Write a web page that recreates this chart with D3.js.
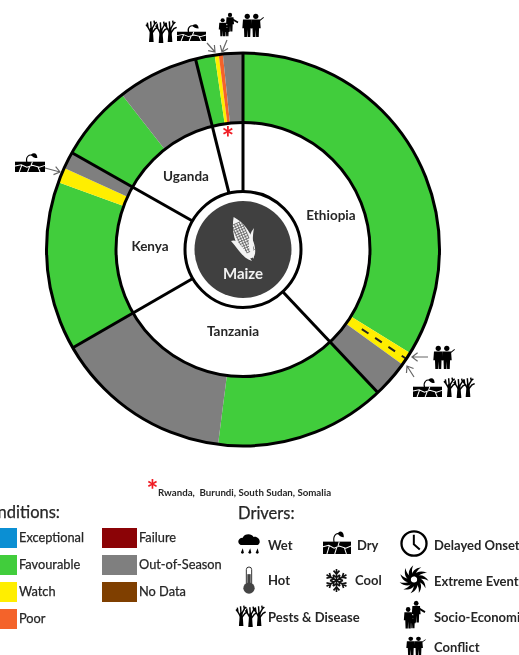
<!DOCTYPE html>
<html>
<head>
<meta charset="utf-8">
<script src="https://cdn.jsdelivr.net/npm/d3@7"></script>
<style>
  html, body { margin: 0; background: #fff; overflow: hidden; }
  svg { display: block; filter: blur(0.35px); }
  text { font-family: Lato, "Open Sans", sans-serif; fill: #262626; }
  .semi { stroke: #262626; stroke-width: 0.25px; }
</style>
</head>
<body>
<div id="chart"></div>
<script>
const width = 519, height = 655;

// countries of the inner ring, share in degrees of the circle
const countries = ["Ethiopia", "Tanzania", "Kenya", "Uganda", ""];
const countryShares = [136.7, 103.3, 59.5, 46.5, 14];

// outer ring, running clockwise from the top
const segmentConditions = ["Favourable", "Watch", "Out-of-Season", "Favourable", "Out-of-Season",
  "Favourable", "Watch", "Out-of-Season", "Favourable", "Out-of-Season",
  "Favourable", "Watch", "Poor", "Out-of-Season"];
const segmentShares = [121.8, 4, 10.9, 50.6, 52.7, 50, 4.5, 5, 22.5, 24, 5.7, 1.2, 1.2, 5.9];

const conditionNames = ["Exceptional", "Favourable", "Watch", "Poor", "Failure", "Out-of-Season", "No Data"];
const conditionColors = ["#0b8fd3", "#41cd3c", "#ffee00", "#f4632a", "#8b0306", "#7f7f7f", "#7f3f00"];
const footnote = "Rwanda,  Burundi, South Sudan, Somalia";

const driverNames = ["Wet", "Dry", "Delayed Onset", "Hot", "Cool", "Extreme Event", "Pests & Disease", "Socio-Economic", "Conflict"];
const driverIcons = ["wet", "dry", "clock", "thermo", "snow", "swirl", "trees", "family", "conflict"];

const cx = 243, cy = 249.5;
const rOuter = 196.5, rMiddle = 127, rHub = 58, rDisc = 48.5;

const color = d3.scaleOrdinal().domain(conditionNames).range(conditionColors);

const svg = d3.select("#chart").append("svg")
  .attr("width", width)
  .attr("height", height)
  .attr("viewBox", [0, 0, width, height]);

const defs = svg.append("defs");

// ---- icons, each one a symbol drawn in its own little box ----
function symbol(id, w, h) {
  return defs.append("symbol").attr("id", id)
    .attr("viewBox", [0, 0, w, h])
    .attr("preserveAspectRatio", "none")
    .attr("overflow", "visible");
}

let trees = symbol("trees", 84, 66);
[13, 42, 69].forEach((tx, i) => {
  let t = trees.append("g").attr("transform", `translate(${tx},${i == 1 ? 3 : 0})`);
  t.append("path").attr("d", "M-7 66 L-4 24 L4 24 L7 66 Z").attr("fill", "#000");
  t.append("path").attr("fill", "none").attr("stroke", "#000").attr("stroke-width", 4.5)
    .attr("d", "M0 40 L-10 22 L-12 8 M-10 22 L-16 14 M0 36 L-2 4 M0 30 L10 12 L8 2 M10 12 L16 6 M0 42 L12 26 L20 22");
});

let dry = symbol("dry", 86, 66);
dry.append("rect").attr("y", 32).attr("width", 86).attr("height", 34).attr("fill", "#000");
dry.append("path").attr("fill", "none").attr("stroke", "#fff").attr("stroke-width", 3)
  .attr("d", "M0 46 L18 42 L34 50 L50 44 L70 50 L86 44 M20 42 L12 66 M42 48 L36 66 M66 50 L72 66 M50 32 L46 44");
dry.append("path").attr("fill", "none").attr("stroke", "#000").attr("stroke-width", 3.5)
  .attr("d", "M34 34 C30 16 40 6 52 12");
dry.append("path").attr("fill", "#000").attr("d", "M46 8 C56 0 64 6 64 20 C56 20 48 16 46 8 Z");

function person(g, x, y, s) {
  let p = g.append("g").attr("transform", `translate(${x},${y}) scale(${s})`);
  p.append("circle").attr("cy", 7).attr("r", 8).attr("fill", "#000");
  p.append("path").attr("fill", "#000")
    .attr("d", "M-13 16 L13 16 L15 42 L10 42 L9 68 L1 68 L0 46 L-1 68 L-9 68 L-10 42 L-15 42 Z");
}

let family = symbol("family", 60, 68);
person(family, 14, 16, 0.78);
person(family, 36, 0, 0.8);
person(family, 27, 36, 0.48);
family.append("path").attr("stroke", "#000").attr("stroke-width", 5).attr("d", "M42 18 L60 28");

let conflict = symbol("conflict", 64, 68);
person(conflict, 16, 0, 1);
person(conflict, 42, 0, 1);
conflict.append("path").attr("stroke", "#000").attr("stroke-width", 3).attr("d", "M48 24 L66 10");

let wet = symbol("wet", 68, 63);
wet.append("path").attr("fill", "#000")
  .attr("d", "M8 36 C-4 30 0 14 14 14 C18 2 40 0 46 12 C60 8 72 28 58 36 Z");
[10, 32, 54].forEach(x => wet.append("path").attr("fill", "#000")
  .attr("d", `M${x + 4} 46 L${x + 7} 58 A4 4 0 1 1 ${x - 1} 58 Z`));

let thermo = symbol("thermo", 36, 83);
thermo.append("rect").attr("x", 10).attr("width", 16).attr("height", 60).attr("rx", 8)
  .attr("fill", "#fff").attr("stroke", "#333").attr("stroke-width", 3);
thermo.append("rect").attr("x", 13).attr("y", 22).attr("width", 10).attr("height", 40).attr("fill", "#444");
thermo.append("circle").attr("cx", 18).attr("cy", 65).attr("r", 17).attr("fill", "#444");

let snow = symbol("snow", 70, 70);
let flake = snow.append("g").attr("transform", "translate(35,35)");
d3.range(6).forEach(i => flake.append("path")
  .attr("transform", `rotate(${i * 60})`)
  .attr("fill", "none").attr("stroke", "#111").attr("stroke-width", 5)
  .attr("d", "M0 0 L0 -35 M-9 -30 L0 -20 L9 -30 M-10 -17 L0 -9 L10 -17"));

let clock = symbol("clock", 85, 80);
clock.append("ellipse").attr("cx", 42.5).attr("cy", 40).attr("rx", 38).attr("ry", 36)
  .attr("fill", "#fff").attr("stroke", "#000").attr("stroke-width", 7);
clock.append("path").attr("fill", "none").attr("stroke", "#000").attr("stroke-width", 6)
  .attr("d", "M42 14 L42 42 L60 58");

let swirl = symbol("swirl", 78, 77);
let arms = swirl.append("g").attr("transform", "translate(39,38.5)");
d3.range(11).forEach(i => arms.append("path")
  .attr("transform", `rotate(${i * 360 / 11})`)
  .attr("fill", "#000")
  .attr("d", "M-6 -10 C-8 -24 4 -36 22 -38 C10 -30 4 -20 6 -9 Z"));
arms.append("circle").attr("r", 8).attr("fill", "#fff");

function placeIcon(id, x, y, w, h) {
  svg.append("use").attr("href", "#" + id)
    .attr("x", x).attr("y", y).attr("width", w).attr("height", h);
}

// ---- rings ----
const chart = svg.append("g").attr("transform", `translate(${cx},${cy})`);
const pie = d3.pie().sort(null).value(d => d);
const segArc = d3.arc().innerRadius(rMiddle).outerRadius(rOuter);
const segments = pie(segmentShares);
const countryArcs = pie(countryShares);

chart.selectAll("path.segment")
  .data(segments)
  .join("path")
  .attr("class", "segment")
  .attr("d", segArc)
  .attr("fill", (d, i) => color(segmentConditions[i]));

chart.append("circle").attr("r", rMiddle).attr("fill", "#fff");

// dashed line down the Ethiopia watch band
const midAngle = (segments[1].startAngle + segments[1].endAngle) / 2;
chart.append("path")
  .attr("d", d3.lineRadial()([[midAngle, 143], [midAngle, rOuter - 1]]))
  .attr("stroke", "#222").attr("stroke-width", 2).attr("stroke-dasharray", "8 8");

// spokes between the countries
chart.selectAll("path.spoke")
  .data(countryArcs)
  .join("path")
  .attr("class", "spoke")
  .attr("d", d => d3.lineRadial()([[d.startAngle, rHub], [d.startAngle, rOuter]]))
  .attr("stroke", "#000").attr("stroke-width", 3);

[rOuter, rMiddle].forEach(r => chart.append("circle")
  .attr("r", r).attr("fill", "none").attr("stroke", "#000").attr("stroke-width", 3));

chart.append("circle").attr("r", rHub).attr("fill", "#fff").attr("stroke", "#000").attr("stroke-width", 3);
chart.append("circle").attr("r", rDisc).attr("fill", "#404040");

// maize cob in the middle
const cobShape = "M0 -23 C7 -14 9 -4 8 8 C7 17 4 22 0 22 C-4 22 -7 17 -8 8 C-9 -4 -6 -14 0 -23 Z";
const cob = svg.append("g").attr("transform", "translate(243,238) rotate(-24)");
defs.append("clipPath").attr("id", "cob-clip").append("path").attr("d", cobShape);
cob.append("path").attr("d", cobShape).attr("fill", "#f4f4f4");
const kernels = cob.append("g").attr("clip-path", "url(#cob-clip)")
  .attr("stroke", "#666").attr("stroke-width", 0.8);
d3.range(-5, 7, 2.6).forEach(x => kernels.append("line").attr("x1", x).attr("x2", x).attr("y1", -16).attr("y2", 15));
d3.range(-16, 16, 2.6).forEach(y => kernels.append("line").attr("x1", -6).attr("x2", 6).attr("y1", y).attr("y2", y));
svg.append("path").attr("fill", "#f4f4f4")
  .attr("d", "M231 241 C237 238 242 246 252 261 C242 258 237 247 231 241 Z M254 228 C252 238 253 247 254 259 C248 251 246 238 254 228 Z");

// country names
const labelAt = { Ethiopia: [331, 215], Tanzania: [233, 331], Kenya: [150, 246], Uganda: [186, 176] };
countries.filter(d => d).forEach(name => {
  svg.append("text").text(name)
    .attr("x", labelAt[name][0]).attr("y", labelAt[name][1])
    .attr("dy", "0.35em").attr("text-anchor", "middle")
    .attr("font-size", 13.5).attr("font-weight", 700);
});
svg.append("text").text("Maize").attr("x", 243).attr("y", 274).attr("dy", "0.35em")
  .attr("text-anchor", "middle").attr("font-size", 15).attr("font-weight", 700)
  .style("fill", "#f2f2f2");

svg.append("text").text("*").attr("x", 228).attr("y", 149).attr("text-anchor", "middle")
  .attr("font-size", 30).attr("font-weight", 700).style("fill", "#f01c24");

// arrows pointing at the ring
const arrow = d3.line();
function pointer(x1, y1, x2, y2) {
  let a = Math.atan2(y2 - y1, x2 - x1), len = 7;
  let head = [[x2 + len * Math.cos(a + 2.5), y2 + len * Math.sin(a + 2.5)], [x2, y2],
    [x2 + len * Math.cos(a - 2.5), y2 + len * Math.sin(a - 2.5)]];
  svg.append("path").attr("d", arrow([[x1, y1], [x2, y2]]) + arrow(head))
    .attr("fill", "none").attr("stroke", "#666").attr("stroke-width", 1.2);
}
pointer(207, 43, 215, 52);
pointer(227, 40, 222, 52);
pointer(428, 357, 412, 357);
pointer(414, 377, 407, 366);
pointer(45, 168, 60, 172);

// icons round the ring
placeIcon("trees", 147, 20, 28, 22);
placeIcon("dry", 177, 23, 29, 18);
placeIcon("family", 218, 13, 20, 23);
placeIcon("conflict", 242, 14, 21, 23);
placeIcon("conflict", 433, 346, 21, 23);
placeIcon("dry", 413, 377, 29, 20);
placeIcon("trees", 445, 377, 28, 20);
placeIcon("dry", 15, 152, 30, 20);

// footnote
svg.append("text").text("*").attr("x", 152.5).attr("y", 500).attr("text-anchor", "middle")
  .attr("font-size", 28).attr("font-weight", 700).style("fill", "#f01c24");
svg.append("text").text(footnote).attr("x", 158).attr("y", 496)
  .attr("font-size", 9.7).attr("font-weight", 700).style("white-space", "pre");

// conditions legend
svg.append("text").text("Conditions:").attr("class", "semi").attr("x", 60).attr("y", 518).attr("text-anchor", "end")
  .attr("font-size", 16.5);

const swatchX = d3.scaleOrdinal().domain([0, 1]).range([-18, 102]);
const swatchY = d3.scalePoint().domain([0, 1, 2, 3]).range([528, 609]);
const legend = svg.selectAll("g.cond")
  .data(conditionNames)
  .join("g")
  .attr("class", "cond")
  .attr("transform", (d, i) => `translate(${swatchX(i < 4 ? 0 : 1)},${swatchY(i < 4 ? i : i - 4)})`);
legend.append("rect").attr("width", 35).attr("height", 20).attr("fill", d => color(d));
legend.append("text").text(d => d).attr("class", "semi").attr("x", 37).attr("y", 10).attr("dy", "0.35em")
  .attr("font-size", 12.8);

// drivers legend
svg.append("text").text("Drivers:").attr("class", "semi").attr("x", 238).attr("y", 519)
  .attr("font-size", 16.5);

const driverTextX = [268, 357, 434, 268, 355, 434, 268, 434, 434];
const driverTextY = [545, 545, 545, 580, 580, 581, 617, 617, 647];
const driverBoxes = [[238, 533, 23, 21], [323, 530, 28, 24], [400, 530, 28, 27], [243, 567, 12, 27],
  [325, 569, 23, 23], [401, 567, 26, 25], [237, 605, 27, 21], [403, 601, 22, 27], [406, 637, 19, 18]];

driverNames.forEach((name, i) => {
  placeIcon(driverIcons[i], ...driverBoxes[i]);
  svg.append("text").text(name)
    .attr("x", driverTextX[i]).attr("y", driverTextY[i]).attr("dy", "0.35em")
    .attr("font-size", 13).attr("font-weight", 700);
});
</script>
</body>
</html>
